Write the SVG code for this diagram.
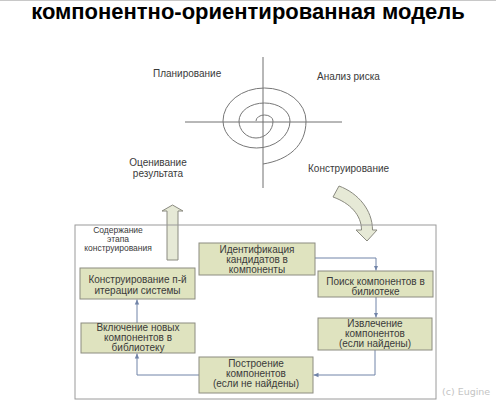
<svg xmlns="http://www.w3.org/2000/svg" width="496" height="401" viewBox="0 0 496 401">
<style>
.t{font-family:"Liberation Sans",Arial,sans-serif;font-size:10px;fill:#3a3a3a}
.n{fill:#dfe3bf;stroke:#8c8c80;stroke-width:1}
.c{fill:none;stroke:#7184a8;stroke-width:1}
.ax{stroke:#707070;stroke-width:1;fill:none}
.ba{fill:#e6e9d6;stroke:#8a8a80;stroke-width:1}
</style>
<defs>
<marker id="ah" markerWidth="6" markerHeight="6" refX="5" refY="3" orient="auto" markerUnits="userSpaceOnUse">
<path d="M0,0.8 L5,3 L0,5.2 z" fill="#7184a8"/>
</marker>
</defs>
<rect width="496" height="401" fill="#ffffff"/>
<line x1="0" y1="0.5" x2="496" y2="0.5" stroke="#c8c8c8"/>
<text x="248" y="19" text-anchor="middle" style="font-family:'Liberation Sans',Arial,sans-serif;font-size:22px;font-weight:bold;fill:#000">компонентно-ориентированная модель</text>

<g id="spiral">
<line class="ax" x1="263" y1="57" x2="263" y2="188"/>
<line class="ax" x1="185" y1="122" x2="342" y2="122"/>
<path fill="none" stroke="#777" stroke-width="1" d="M263,164 C288,160 306,146 306,121 A41.5 33 0 0 0 223,121 A33.5 27 0 0 0 290,121 A25.5 18 0 0 0 239,121 A17 17 0 0 0 273,121 A8.5 6 0 0 0 256,121"/>
<text class="t" x="153" y="77">Планирование</text>
<text class="t" x="317" y="80">Анализ риска</text>
<text class="t" x="158" y="166" text-anchor="middle">Оценивание</text>
<text class="t" x="158" y="177" text-anchor="middle">результата</text>
<text class="t" x="308" y="172">Конструирование</text>
</g>

<g id="up-arrow">
<path class="ba" d="M167,260 L167,211 L162,211 L172.5,205 L183,211 L178,211 L178,260 z"/>
</g>
<g id="down-arrow">
<path class="ba" d="M339,186 C358,193 372.5,210 372.5,230 L377,230 L367,241 L356,230 L361.5,230 C361.5,215 350,203 333,197 z"/>
</g>

<rect id="container" x="75" y="225" width="361" height="174" fill="none" stroke="#9a9a9a" stroke-width="1"/>
<g id="caption">
<text class="t" x="118" y="233" text-anchor="middle" style="font-size:8.5px">Содержание</text>
<text class="t" x="118" y="242" text-anchor="middle" style="font-size:8.5px">этапа</text>
<text class="t" x="118" y="251" text-anchor="middle" style="font-size:8.5px">конструирования</text>
</g>

<g id="connectors">
<path class="c" d="M315,258 L376,258 L376,270.5" marker-end="url(#ah)"/>
<path class="c" d="M376,297 L376,317.5" marker-end="url(#ah)"/>
<path class="c" d="M375,350 L375,375 L313.5,375" marker-end="url(#ah)"/>
<path class="c" d="M199,375 L137,375 L137,353.5" marker-end="url(#ah)"/>
<path class="c" d="M137,323 L137,299.5" marker-end="url(#ah)"/>
</g>

<g id="n1">
<rect class="n" x="80" y="268" width="115" height="31"/>
<text class="t" x="137.5" y="283" text-anchor="middle">Конструирование п-й</text>
<text class="t" x="137.5" y="294" text-anchor="middle">итерации системы</text>
</g>
<g id="n2">
<rect class="n" x="199" y="243" width="116" height="32"/>
<text class="t" x="257" y="253" text-anchor="middle">Идентификация</text>
<text class="t" x="257" y="263" text-anchor="middle">кандидатов в</text>
<text class="t" x="257" y="273" text-anchor="middle">компоненты</text>
</g>
<g id="n3">
<rect class="n" x="318" y="271" width="115" height="26"/>
<text class="t" x="375.5" y="285" text-anchor="middle">Поиск компонентов в</text>
<text class="t" x="375.5" y="295" text-anchor="middle">билиотеке</text>
</g>
<g id="n4">
<rect class="n" x="318" y="318" width="114" height="32"/>
<text class="t" x="375" y="327" text-anchor="middle">Извлечение</text>
<text class="t" x="375" y="337" text-anchor="middle">компонентов</text>
<text class="t" x="375" y="347" text-anchor="middle">(если найдены)</text>
</g>
<g id="n5">
<rect class="n" x="81" y="323" width="114" height="30"/>
<text class="t" x="138" y="331" text-anchor="middle">Включение новых</text>
<text class="t" x="138" y="341" text-anchor="middle">компонентов в</text>
<text class="t" x="138" y="351" text-anchor="middle">библиотеку</text>
</g>
<g id="n6">
<rect class="n" x="199" y="357" width="114" height="36"/>
<text class="t" x="256" y="367" text-anchor="middle">Построение</text>
<text class="t" x="256" y="377" text-anchor="middle">компонентов</text>
<text class="t" x="256" y="387" text-anchor="middle">(если не найдены)</text>
</g>
<text x="442" y="395" style="font-family:'DejaVu Sans',sans-serif;font-size:9.5px;fill:#c4c4c4">(c) Eugine</text>
</svg>
